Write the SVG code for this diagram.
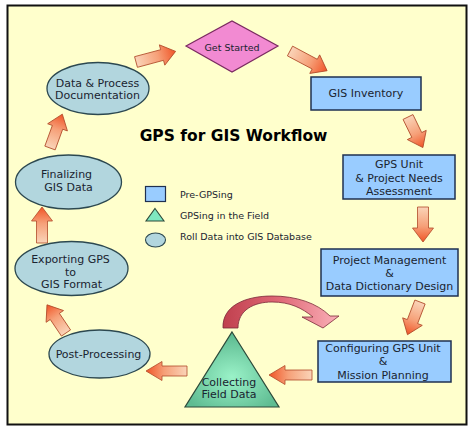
<svg xmlns="http://www.w3.org/2000/svg" width="474" height="431" viewBox="0 0 474 431">
<defs>
<style>
text{font-family:"DejaVu Sans","Liberation Sans",sans-serif;fill:#1a2430;text-anchor:middle;font-size:11px}
.rect{fill:#99ccff;stroke:#1f3050;stroke-width:1.5}
.ell{fill:#b2d6de;stroke:#2c4850;stroke-width:1.3}
.arr{fill:url(#ag);stroke:#b04a2a;stroke-width:0.8}
.leg{font-size:9.5px;text-anchor:start}
</style>
<linearGradient id="ag" x1="0" y1="0" x2="1" y2="0">
<stop offset="0" stop-color="#fad4b8"/>
<stop offset="0.55" stop-color="#f6a078"/>
<stop offset="1" stop-color="#f05426"/>
</linearGradient>
<linearGradient id="cg" x1="0" y1="0" x2="1" y2="0">
<stop offset="0" stop-color="#c0404e"/>
<stop offset="0.5" stop-color="#e06a78"/>
<stop offset="1" stop-color="#fab0b8"/>
</linearGradient>
<radialGradient id="tg" cx="0.5" cy="0.6" r="0.55">
<stop offset="0" stop-color="#9af2c8"/>
<stop offset="1" stop-color="#5fbc92"/>
</radialGradient>
</defs>
<rect x="0" y="0" width="474" height="431" fill="#ffffff"/>
<rect x="7.5" y="5.5" width="459" height="419" fill="#ffffcc" stroke="#111" stroke-width="2"/>
<text x="233.5" y="141" style="font-size:15.5px;font-weight:bold;fill:#000">GPS for GIS Workflow</text>

<g id="connectors">
<path class="arr" transform="translate(136,62) rotate(-15)" d="M0,-5.5H27V-10.5L41,0L27,10.5V5.5H0Z"/>
<path class="arr" transform="translate(290,51) rotate(28)" d="M0,-5.5H28V-10.5L42,0L28,10.5V5.5H0Z"/>
<path class="arr" transform="translate(408,117) rotate(64)" d="M0,-5.5H20V-10.5L34,0L20,10.5V5.5H0Z"/>
<path class="arr" transform="translate(423,207) rotate(90)" d="M0,-5.5H21V-10.5L35,0L21,10.5V5.5H0Z"/>
<path class="arr" transform="translate(420,302) rotate(111)" d="M0,-5.5H21V-10.5L35,0L21,10.5V5.5H0Z"/>
<path class="arr" transform="translate(312,375) rotate(180)" d="M0,-5H27V-9.5L43,0L27,9.5V5H0Z"/>
<path class="arr" transform="translate(187,371) rotate(180)" d="M0,-5H25V-9.5L41,0L25,9.5V5H0Z"/>
<path class="arr" transform="translate(66,333) rotate(-124)" d="M0,-5.5H20V-10.5L34,0L20,10.5V5.5H0Z"/>
<path class="arr" transform="translate(42,243) rotate(-90)" d="M0,-5.5H22V-10.5L36,0L22,10.5V5.5H0Z"/>
<path class="arr" transform="translate(50,148) rotate(-70)" d="M0,-5.5H22V-10.5L36,0L22,10.5V5.5H0Z"/>
<path fill="url(#cg)" stroke="#7a2a38" stroke-width="0.8" d="M223,328 C222,306 245,296 272,296 C296,296 317,303 330,316 L339,316 L323,328 L302,317 L313,317 C302,308 290,302 272,302 C254,302 238,310 238,328 Z"/>
</g>

<g id="get-started">
<polygon points="186,46 232,21 278,46 232,72" fill="#f28ad2" stroke="#7a2a60" stroke-width="1.2"/>
<text x="232" y="50.5" style="font-size:9.5px">Get Started</text>
</g>
<g id="gis-inventory">
<rect class="rect" x="311" y="77" width="110" height="33"/>
<text x="366" y="97">GIS Inventory</text>
</g>
<g id="gps-unit">
<rect class="rect" x="343" y="155" width="112" height="44"/>
<text x="399" y="168">GPS Unit</text>
<text x="399" y="181.5">&amp; Project Needs</text>
<text x="399" y="195">Assessment</text>
</g>
<g id="project-management">
<rect class="rect" x="321" y="249" width="137" height="47"/>
<text x="389.5" y="264">Project Management</text>
<text x="389.5" y="277">&amp;</text>
<text x="389.5" y="290">Data Dictionary Design</text>
</g>
<g id="configuring">
<rect class="rect" x="318" y="341" width="133" height="41"/>
<text x="383" y="352">Configuring GPS Unit</text>
<text x="383" y="365">&amp;</text>
<text x="383" y="378.5">Mission Planning</text>
</g>
<g id="collecting">
<polygon points="232,332 279,407 185,407" fill="url(#tg)" stroke="#2c4a3a" stroke-width="1.2"/>
<text x="229" y="386">Collecting</text>
<text x="229" y="398">Field Data</text>
</g>
<g id="post-processing">
<ellipse class="ell" cx="99.5" cy="354" rx="50.5" ry="24"/>
<text x="98.5" y="357.5">Post-Processing</text>
</g>
<g id="exporting">
<ellipse class="ell" cx="71.5" cy="268.5" rx="56.5" ry="27"/>
<text x="70.5" y="263">Exporting GPS</text>
<text x="70.5" y="275.5">to</text>
<text x="71.5" y="288">GIS Format</text>
</g>
<g id="finalizing">
<ellipse class="ell" cx="68.5" cy="182" rx="53" ry="27"/>
<text x="66.5" y="178">Finalizing</text>
<text x="68.5" y="190.5">GIS Data</text>
</g>
<g id="documentation">
<ellipse class="ell" cx="98" cy="88.5" rx="51" ry="26"/>
<text x="97.5" y="86.5">Data &amp; Process</text>
<text x="97.5" y="98.5">Documentation</text>
</g>

<g id="legend">
<rect x="145.5" y="186.5" width="20" height="15" fill="#99ccff" stroke="#1f3050" stroke-width="1.2"/>
<polygon points="155,208.5 164,221 146,221" fill="#7ee8c0" stroke="#2c4a3a" stroke-width="1.1"/>
<ellipse cx="155.5" cy="240" rx="10" ry="7" fill="#b2d6de" stroke="#2c4850" stroke-width="1.1"/>
<text class="leg" x="180" y="198">Pre-GPSing</text>
<text class="leg" x="180" y="219">GPSing in the Field</text>
<text class="leg" x="180" y="240">Roll Data into GIS Database</text>
</g>
</svg>
